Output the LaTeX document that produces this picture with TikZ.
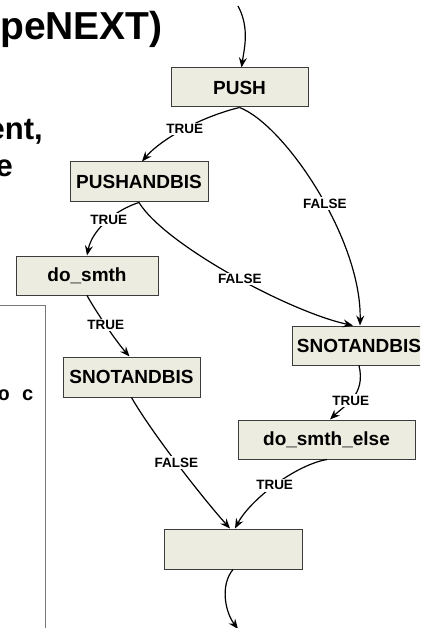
\documentclass[tikz,border=0pt]{standalone}
\usepackage{fontspec}
\setmainfont{Liberation Sans}
\setmonofont{Liberation Mono}
\usetikzlibrary{arrows.meta}

\definecolor{boxfill}{RGB}{236,236,224}
\definecolor{boxline}{RGB}{60,60,60}
\definecolor{frameline}{RGB}{120,120,120}

\tikzset{
  stepbox/.style={draw=boxline, fill=boxfill, line width=1pt, inner sep=0pt,
    minimum height=39pt, font=\fontsize{19}{22}\selectfont\bfseries},
  flow/.style={line width=1.2pt, -{Stealth[length=10pt,width=8pt,inset=3.5pt]}},
  cond/.style={fill=white, inner sep=1.5pt, font=\fontsize{13.5}{15}\selectfont\bfseries},
  headline/.style={font=\fontsize{39}{44}\selectfont\bfseries, inner sep=0pt},
  bodyline/.style={font=\fontsize{31}{37}\selectfont\bfseries, inner sep=0pt},
}

\begin{document}
\begin{tikzpicture}[x=1pt, y=-1pt]
\useasboundingbox (0,0) rectangle (420,628);
\clip (0,0) rectangle (420,628);

% slide text behind the chart
\node[headline, anchor=base east] (title) at (163,40) {peNEXT)};
\node[bodyline, anchor=base east] (line1) at (43,140) {ent,};
\node[bodyline, anchor=base east] (line2) at (13,177) {e};

% code listing frame
\draw[frameline, line width=1pt] (-5,305) -| (45,640);
\node[font=\fontsize{20}{22}\selectfont\ttfamily\bfseries, anchor=base east, inner sep=0pt] (code) at (34,400) {o c};

% blocks
\node[stepbox, minimum width=137pt] (push)   at (239.5,87.5) {PUSH};
\node[stepbox, minimum width=138pt, minimum height=40pt] (pab) at (139,182) {PUSHANDBIS};
\node[stepbox, minimum width=142pt] (dosmth) at (87,275.5) {do\_smth};
\node[stepbox, minimum width=137pt, minimum height=40pt] (snotL) at (131.5,377) {SNOTANDBIS};
\node[stepbox, minimum width=134pt] (snotR)  at (359,345.5) {SNOTANDBIS};
\node[stepbox, minimum width=177pt] (doelse) at (326.5,439.5) {do\_smth\_else};
\node[stepbox, minimum width=138pt, minimum height=40pt] (endbox) at (233,549) {};

\coordinate (entry) at (238,6);
\coordinate (exit) at (238,629);

% connectors
\draw[flow] (entry) .. controls (250,28) and (244,50) .. ([xshift=2pt]push.north);

\draw[flow] (push.south) .. controls (200,117) and (160,140) .. ([xshift=3pt]pab.north)
  node[cond, pos=0.48] {TRUE};
\draw[flow] (push.south) .. controls (285,125) and (362,240) .. ([xshift=1pt]snotR.north)
  node[cond, pos=0.55] {FALSE};

\draw[flow] (pab.south) .. controls (115,210) and (92,230) .. (dosmth.north)
  node[cond, pos=0.45] {TRUE};
\draw[flow] (pab.south) .. controls (165,245) and (290,312) .. ([xshift=-6pt]snotR.north)
  node[cond, pos=0.53] {FALSE};

\draw[flow] (dosmth.south) .. controls (95,310) and (115,340) .. ([xshift=-2pt]snotL.north)
  node[cond, pos=0.5] {TRUE};
\draw[flow] (snotL.south) .. controls (150,430) and (200,495) .. ([xshift=-3pt]endbox.north)
  node[cond, pos=0.5] {FALSE};

\draw[flow] (snotR.south) .. controls (366,395) and (345,405) .. ([xshift=3.5pt]doelse.north)
  node[cond, pos=0.55] {TRUE};
\draw[flow] ([xshift=0.5pt]doelse.south) .. controls (295,465) and (250,500) .. ([xshift=2pt]endbox.north)
  node[cond, pos=0.5] {TRUE};

\draw[flow] (endbox.south) .. controls (220,585) and (225,612) .. (exit);
\end{tikzpicture}
\end{document}
